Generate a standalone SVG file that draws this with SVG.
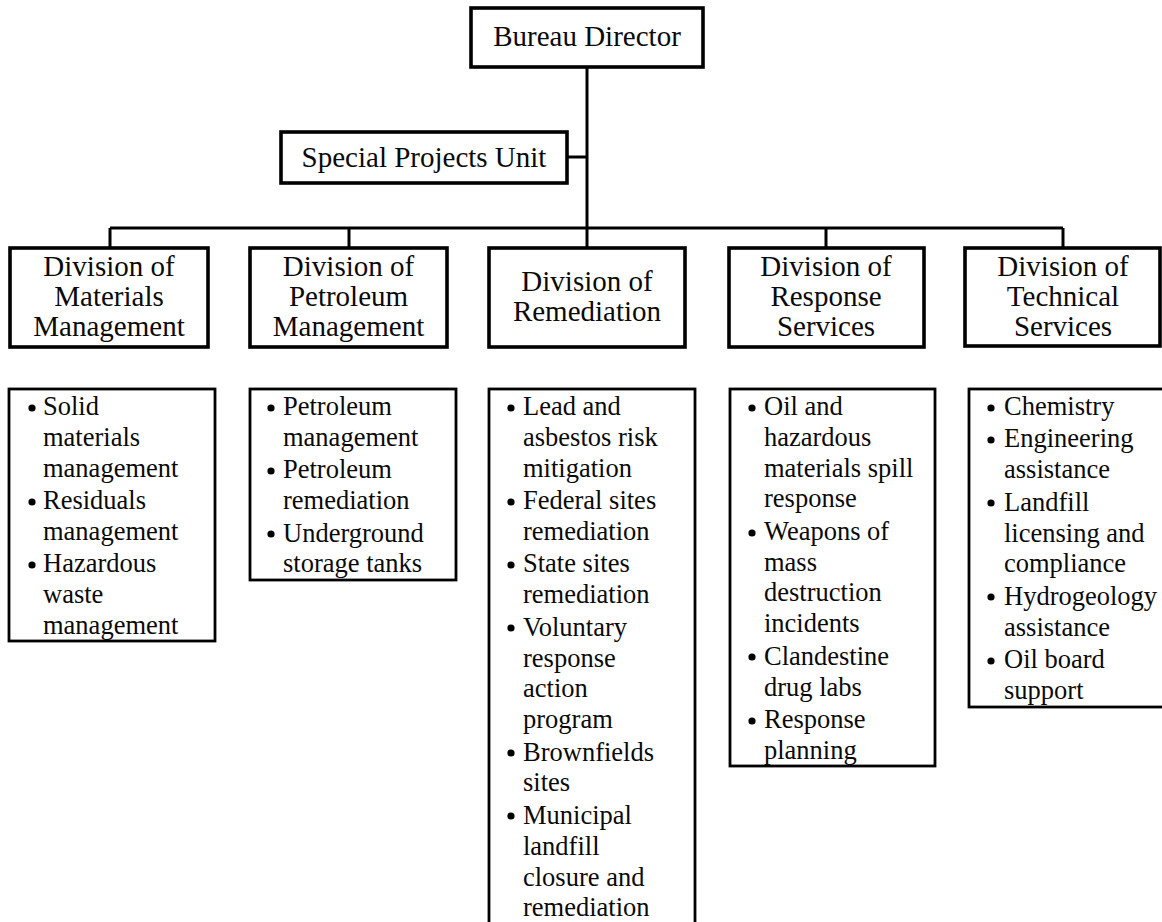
<svg xmlns="http://www.w3.org/2000/svg" width="1162" height="922" viewBox="0 0 1162 922">
  <style>
    .box { fill: #ffffff; stroke: #000000; stroke-width: 3.6; }
    .list { fill: #ffffff; stroke: #000000; stroke-width: 2.8; }
    .wire { fill: none; stroke: #000000; stroke-width: 3; }
    .hd { font-family: "Liberation Serif", "Times New Roman", serif; font-size: 29px; fill: #0a0a0a; text-anchor: middle; }
    .it { font-family: "Liberation Serif", "Times New Roman", serif; font-size: 26.5px; fill: #0a0a0a; }
    .dot { fill: #000000; }
  </style>
  <rect x="0" y="0" width="1162" height="922" fill="#ffffff"/>

  <!-- connectors -->
  <g id="connectors">
    <path class="wire" d="M587 67 V228"/>
    <path class="wire" d="M567 157 H587"/>
    <path class="wire" d="M110 228 H1063"/>
    <path class="wire" d="M110 228 V248"/>
    <path class="wire" d="M349 228 V248"/>
    <path class="wire" d="M587 228 V248"/>
    <path class="wire" d="M826 228 V248"/>
    <path class="wire" d="M1063 228 V248"/>
  </g>

  <g id="bureau-director">
    <rect class="box" x="471" y="8" width="232" height="59"/>
    <text class="hd" x="587" y="46">Bureau Director</text>
  </g>

  <g id="special-projects">
    <rect class="box" x="281" y="132" width="286" height="51"/>
    <text class="hd" x="424" y="167">Special Projects Unit</text>
  </g>

  <!-- division headers -->
  <g id="div-materials">
    <rect class="box" x="10" y="248" width="198" height="99"/>
    <text class="hd" x="109" y="276">Division of</text>
    <text class="hd" x="109" y="306">Materials</text>
    <text class="hd" x="109" y="336">Management</text>
  </g>

  <g id="div-petroleum">
    <rect class="box" x="250" y="248" width="197" height="99"/>
    <text class="hd" x="348.5" y="276">Division of</text>
    <text class="hd" x="348.5" y="306">Petroleum</text>
    <text class="hd" x="348.5" y="336">Management</text>
  </g>

  <g id="div-remediation">
    <rect class="box" x="489" y="248" width="196" height="99"/>
    <text class="hd" x="587" y="291">Division of</text>
    <text class="hd" x="587" y="321">Remediation</text>
  </g>

  <g id="div-response">
    <rect class="box" x="729" y="248" width="195" height="99"/>
    <text class="hd" x="826" y="276">Division of</text>
    <text class="hd" x="826" y="306">Response</text>
    <text class="hd" x="826" y="336">Services</text>
  </g>

  <g id="div-technical">
    <rect class="box" x="965" y="248" width="195" height="98"/>
    <text class="hd" x="1063" y="276">Division of</text>
    <text class="hd" x="1063" y="306">Technical</text>
    <text class="hd" x="1063" y="336">Services</text>
  </g>

  <!-- function lists -->
  <g id="list-materials">
    <rect class="list" x="9" y="389" width="206" height="252"/>
    <circle class="dot" cx="32" cy="408" r="3.6"/>
    <circle class="dot" cx="32" cy="502" r="3.6"/>
    <circle class="dot" cx="32" cy="565" r="3.6"/>
    <text class="it" x="43" y="415">Solid</text>
    <text class="it" x="43" y="446">materials</text>
    <text class="it" x="43" y="477">management</text>
    <text class="it" x="43" y="509">Residuals</text>
    <text class="it" x="43" y="540">management</text>
    <text class="it" x="43" y="572">Hazardous</text>
    <text class="it" x="43" y="603">waste</text>
    <text class="it" x="43" y="634">management</text>
  </g>

  <g id="list-petroleum">
    <rect class="list" x="250" y="389" width="206" height="191"/>
    <circle class="dot" cx="271" cy="408" r="3.6"/>
    <circle class="dot" cx="271" cy="471" r="3.6"/>
    <circle class="dot" cx="271" cy="534" r="3.6"/>
    <text class="it" x="283" y="415">Petroleum</text>
    <text class="it" x="283" y="446">management</text>
    <text class="it" x="283" y="478">Petroleum</text>
    <text class="it" x="283" y="509">remediation</text>
    <text class="it" x="283" y="542">Underground</text>
    <text class="it" x="283" y="572">storage tanks</text>
  </g>

  <g id="list-remediation">
    <rect class="list" x="489" y="389" width="206" height="545"/>
    <circle class="dot" cx="511" cy="408" r="3.6"/>
    <circle class="dot" cx="511" cy="502" r="3.6"/>
    <circle class="dot" cx="511" cy="565" r="3.6"/>
    <circle class="dot" cx="511" cy="628" r="3.6"/>
    <circle class="dot" cx="511" cy="753" r="3.6"/>
    <circle class="dot" cx="511" cy="816" r="3.6"/>
    <text class="it" x="523" y="415">Lead and</text>
    <text class="it" x="523" y="446">asbestos risk</text>
    <text class="it" x="523" y="477">mitigation</text>
    <text class="it" x="523" y="509">Federal sites</text>
    <text class="it" x="523" y="540">remediation</text>
    <text class="it" x="523" y="572">State sites</text>
    <text class="it" x="523" y="603">remediation</text>
    <text class="it" x="523" y="636">Voluntary</text>
    <text class="it" x="523" y="667">response</text>
    <text class="it" x="523" y="697">action</text>
    <text class="it" x="523" y="728">program</text>
    <text class="it" x="523" y="761">Brownfields</text>
    <text class="it" x="523" y="791">sites</text>
    <text class="it" x="523" y="824">Municipal</text>
    <text class="it" x="523" y="855">landfill</text>
    <text class="it" x="523" y="886">closure and</text>
    <text class="it" x="523" y="916">remediation</text>
  </g>

  <g id="list-response">
    <rect class="list" x="730" y="389" width="205" height="377"/>
    <circle class="dot" cx="752" cy="408" r="3.6"/>
    <circle class="dot" cx="752" cy="533" r="3.6"/>
    <circle class="dot" cx="752" cy="657" r="3.6"/>
    <circle class="dot" cx="752" cy="721" r="3.6"/>
    <text class="it" x="764" y="415">Oil and</text>
    <text class="it" x="764" y="446">hazardous</text>
    <text class="it" x="764" y="477">materials spill</text>
    <text class="it" x="764" y="507">response</text>
    <text class="it" x="764" y="540">Weapons of</text>
    <text class="it" x="764" y="571">mass</text>
    <text class="it" x="764" y="601">destruction</text>
    <text class="it" x="764" y="632">incidents</text>
    <text class="it" x="764" y="665">Clandestine</text>
    <text class="it" x="764" y="696">drug labs</text>
    <text class="it" x="764" y="728">Response</text>
    <text class="it" x="764" y="759">planning</text>
  </g>

  <g id="list-technical">
    <rect class="list" x="969" y="389" width="205" height="318"/>
    <circle class="dot" cx="991" cy="408" r="3.6"/>
    <circle class="dot" cx="991" cy="440" r="3.6"/>
    <circle class="dot" cx="991" cy="503" r="3.6"/>
    <circle class="dot" cx="991" cy="597" r="3.6"/>
    <circle class="dot" cx="991" cy="661" r="3.6"/>
    <text class="it" x="1004" y="415">Chemistry</text>
    <text class="it" x="1004" y="447">Engineering</text>
    <text class="it" x="1004" y="478">assistance</text>
    <text class="it" x="1004" y="511">Landfill</text>
    <text class="it" x="1004" y="542">licensing and</text>
    <text class="it" x="1004" y="572">compliance</text>
    <text class="it" x="1004" y="605">Hydrogeology</text>
    <text class="it" x="1004" y="636">assistance</text>
    <text class="it" x="1004" y="668">Oil board</text>
    <text class="it" x="1004" y="699">support</text>
  </g>
</svg>
